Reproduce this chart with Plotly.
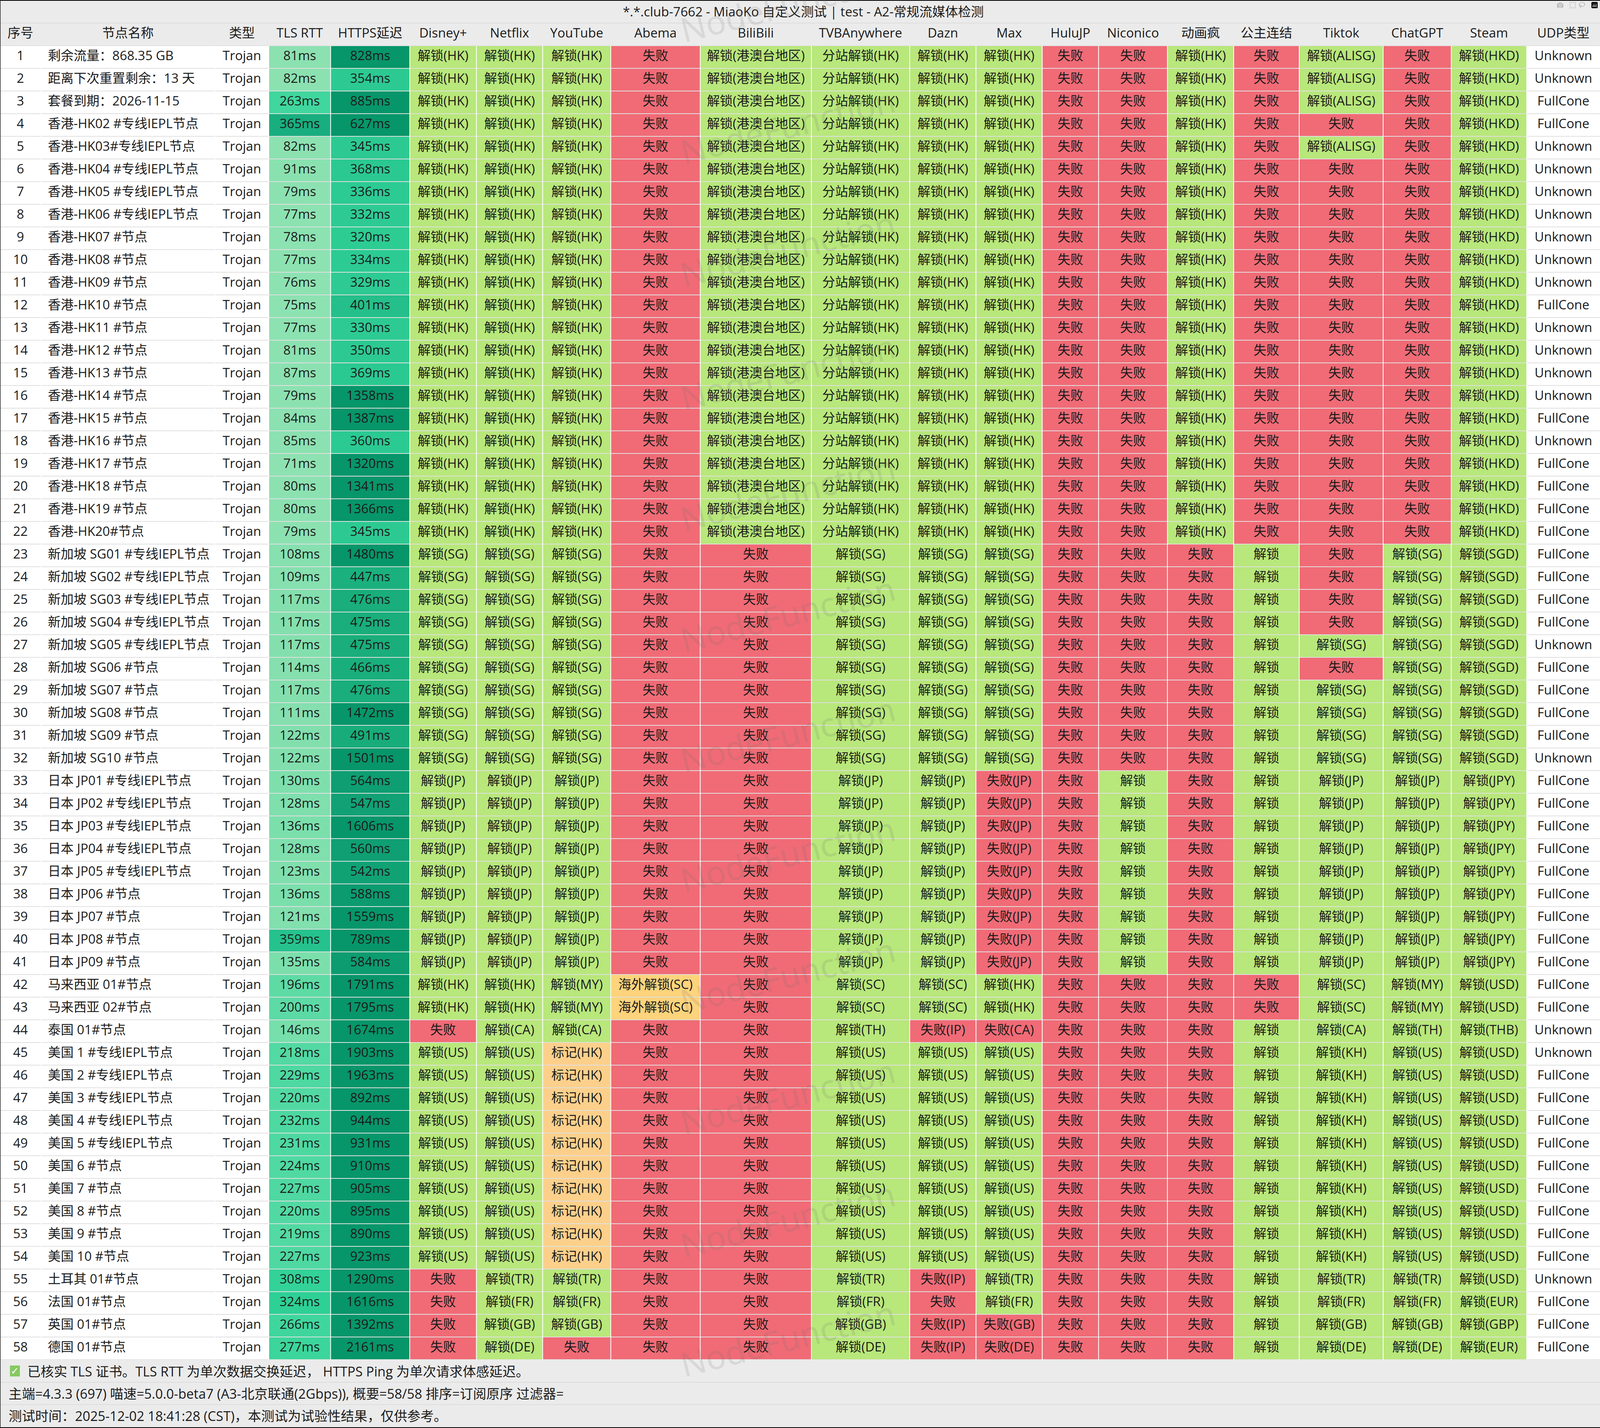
import numpy as np
import plotly.graph_objects as go

WIDTH = 4346
HEIGHT = 3656
FONT = "Open Sans, Noto Sans CJK SC, sans-serif"
TEXT_SIZE = 33
FOOTER_SIZE = 34

title_text = "*.*.club-7662 - MiaoKo 自定义测试 | test - A2-常规流媒体检测"
headers = ["序号", "节点名称", "类型", "TLS RTT", "HTTPS延迟", "Disney+", "Netflix", "YouTube", "Abema",
           "BiliBili", "TVBAnywhere", "Dazn", "Max", "HuluJP", "Niconico", "动画疯", "公主连结",
           "Tiktok", "ChatGPT", "Steam", "UDP类型"]

# x position of every column edge, in pixels
col_edges = [0, 111, 584, 730, 898, 1113, 1294, 1474, 1659, 1902, 2204, 2471, 2651, 2831, 2984,
             3171, 3351, 3529, 3757, 3942, 4147, 4346]

hk_special = ["香港-HK02 #专线IEPL节点", "香港-HK03#专线IEPL节点", "香港-HK04 #专线IEPL节点",
              "香港-HK05 #专线IEPL节点", "香港-HK06 #专线IEPL节点"]
hk_plain = ["香港-HK07 #节点", "香港-HK08 #节点", "香港-HK09 #节点", "香港-HK10 #节点", "香港-HK11 #节点",
            "香港-HK12 #节点", "香港-HK13 #节点", "香港-HK14 #节点", "香港-HK15 #节点", "香港-HK16 #节点",
            "香港-HK17 #节点", "香港-HK18 #节点", "香港-HK19 #节点", "香港-HK20#节点"]
sg_nodes = ["新加坡 SG01 #专线IEPL节点", "新加坡 SG02 #专线IEPL节点", "新加坡 SG03 #专线IEPL节点",
            "新加坡 SG04 #专线IEPL节点", "新加坡 SG05 #专线IEPL节点", "新加坡 SG06 #节点", "新加坡 SG07 #节点",
            "新加坡 SG08 #节点", "新加坡 SG09 #节点", "新加坡 SG10 #节点"]
jp_nodes = ["日本 JP01 #专线IEPL节点", "日本 JP02 #专线IEPL节点", "日本 JP03 #专线IEPL节点", "日本 JP04 #专线IEPL节点",
            "日本 JP05 #专线IEPL节点", "日本 JP06 #节点", "日本 JP07 #节点", "日本 JP08 #节点", "日本 JP09 #节点"]
us_nodes = ["美国 1 #专线IEPL节点", "美国 2 #专线IEPL节点", "美国 3 #专线IEPL节点", "美国 4 #专线IEPL节点",
            "美国 5 #专线IEPL节点", "美国 6 #节点", "美国 7 #节点", "美国 8 #节点", "美国 9 #节点", "美国 10 #节点"]
node_names = (["剩余流量：868.35 GB", "距离下次重置剩余：13 天", "套餐到期：2026-11-15"] + hk_special + hk_plain
              + sg_nodes + jp_nodes + ["马来西亚 01#节点", "马来西亚 02#节点", "泰国 01#节点"] + us_nodes
              + ["土耳其 01#节点", "法国 01#节点", "英国 01#节点", "德国 01#节点"])

tls_rtt = [81, 82, 263, 365, 82, 91, 79, 77, 78, 77, 76, 75, 77, 81, 87, 79, 84, 85, 71, 80, 80, 79,
           108, 109, 117, 117, 117, 114, 117, 111, 122, 122,
           130, 128, 136, 128, 123, 136, 121, 359, 135,
           196, 200, 146, 218, 229, 220, 232, 231, 224, 227, 220, 219, 227, 308, 324, 266, 277]
https_ping = [828, 354, 885, 627, 345, 368, 336, 332, 320, 334, 329, 401, 330, 350, 369, 1358, 1387, 360,
              1320, 1341, 1366, 345,
              1480, 447, 476, 475, 475, 466, 476, 1472, 491, 1501,
              564, 547, 1606, 560, 542, 588, 1559, 789, 584,
              1791, 1795, 1674, 1903, 1963, 892, 944, 931, 910, 905, 895, 890, 923, 1290, 1616, 1392, 2161]

FAIL = "失败"
disney = ["解锁(HK)"] * 22 + ["解锁(SG)"] * 10 + ["解锁(JP)"] * 9 + ["解锁(HK)"] * 2 + [FAIL] + ["解锁(US)"] * 10 + [FAIL] * 4
netflix = (["解锁(HK)"] * 22 + ["解锁(SG)"] * 10 + ["解锁(JP)"] * 9 + ["解锁(HK)"] * 2 + ["解锁(CA)"] + ["解锁(US)"] * 10
           + ["解锁(TR)", "解锁(FR)", "解锁(GB)", "解锁(DE)"])
youtube = (["解锁(HK)"] * 22 + ["解锁(SG)"] * 10 + ["解锁(JP)"] * 9 + ["解锁(MY)"] * 2 + ["解锁(CA)"] + ["标记(HK)"] * 10
           + ["解锁(TR)", "解锁(FR)", "解锁(GB)", FAIL])
abema = [FAIL] * 41 + ["海外解锁(SC)"] * 2 + [FAIL] * 15
bilibili = ["解锁(港澳台地区)"] * 22 + [FAIL] * 36
tvb = (["分站解锁(HK)"] * 22 + ["解锁(SG)"] * 10 + ["解锁(JP)"] * 9 + ["解锁(SC)"] * 2 + ["解锁(TH)"] + ["解锁(US)"] * 10
       + ["解锁(TR)", "解锁(FR)", "解锁(GB)", "解锁(DE)"])
dazn = (["解锁(HK)"] * 22 + ["解锁(SG)"] * 10 + ["解锁(JP)"] * 9 + ["解锁(SC)"] * 2 + ["失败(IP)"] + ["解锁(US)"] * 10
        + ["失败(IP)", FAIL, "失败(IP)", "失败(IP)"])
hbo_max = (["解锁(HK)"] * 22 + ["解锁(SG)"] * 10 + ["失败(JP)"] * 9 + ["解锁(HK)"] * 2 + ["失败(CA)"] + ["解锁(US)"] * 10
           + ["解锁(TR)", "解锁(FR)", "失败(GB)", "失败(DE)"])
hulu_jp = [FAIL] * 58
niconico = [FAIL] * 32 + ["解锁"] * 9 + [FAIL] * 17
bahamut = ["解锁(HK)"] * 22 + [FAIL] * 36
pcr = [FAIL] * 22 + ["解锁"] * 19 + [FAIL] * 2 + ["解锁"] * 15
tiktok = (["解锁(ALISG)"] * 3 + [FAIL, "解锁(ALISG)"] + [FAIL] * 21 + ["解锁(SG)", FAIL] + ["解锁(SG)"] * 4
          + ["解锁(JP)"] * 9 + ["解锁(SC)"] * 2 + ["解锁(CA)"] + ["解锁(KH)"] * 10
          + ["解锁(TR)", "解锁(FR)", "解锁(GB)", "解锁(DE)"])
chatgpt = ([FAIL] * 22 + ["解锁(SG)"] * 10 + ["解锁(JP)"] * 9 + ["解锁(MY)"] * 2 + ["解锁(TH)"] + ["解锁(US)"] * 10
           + ["解锁(TR)", "解锁(FR)", "解锁(GB)", "解锁(DE)"])
steam = (["解锁(HKD)"] * 22 + ["解锁(SGD)"] * 10 + ["解锁(JPY)"] * 9 + ["解锁(USD)"] * 2 + ["解锁(THB)"] + ["解锁(USD)"] * 11
         + ["解锁(EUR)", "解锁(GBP)", "解锁(EUR)"])
udp_u, udp_f = "Unknown", "FullCone"
udp_type = ([udp_u, udp_u, udp_f, udp_f] + [udp_u] * 7 + [udp_f] + [udp_u] * 4 + [udp_f, udp_u] + [udp_f] * 8 + [udp_u]
            + [udp_f] * 4 + [udp_u] + [udp_f] * 11 + [udp_u, udp_u] + [udp_f] * 9 + [udp_u] + [udp_f] * 3)

footer_lines = ["已核实 TLS 证书。TLS RTT 为单次数据交换延迟， HTTPS Ping 为单次请求体感延迟。",
                "主端=4.3.3 (697) 喵速=5.0.0-beta7 (A3-北京联通(2Gbps)), 概要=58/58 排序=订阅原序 过滤器=",
                "测试时间：2025-12-02 18:41:28 (CST)，本测试为试验性结果，仅供参考。"]
watermark_y = [9, 321, 636, 951, 1261, 1571, 1879, 2186, 2496, 2806, 3121, 3426]

# colours
GREEN, RED, ORANGE, YELLOW = "#b8e77b", "#f06b76", "#fcd08b", "#fdd37c"
WHITE, HEADER_BG = "#ffffff", "#ebebeb"
RTT_STOPS = [(71, "#8ee2b2"), (117, "#84dfae"), (146, "#76dfab"), (218, "#53d9a3"), (266, "#3fd69d"),
             (324, "#2ed096"), (359, "#25c28d"), (365, "#19ae7e")]
PING_STOPS = [(320, "#2dcc93"), (369, "#2bc992"), (401, "#24bf8a"), (447, "#1ab17e"), (491, "#18ac7a"),
              (560, "#0f9f72"), (627, "#069669")]


def hex_rgb(c):
    return [int(c[i:i + 2], 16) for i in (1, 3, 5)]


def latency_colour(v, stops):
    xs = [s[0] for s in stops]
    rgb = [np.interp(v, xs, [hex_rgb(s[1])[k] for s in stops]) for k in range(3)]
    return "#%02x%02x%02x" % tuple(int(round(c)) for c in rgb)


def status_colour(s):
    if s.startswith("失败"):
        return RED
    if s.startswith("标记"):
        return ORANGE
    if s.startswith("海外"):
        return YELLOW
    return GREEN


n_rows = len(node_names)
columns = [[str(i + 1) for i in range(n_rows)], node_names, ["Trojan"] * n_rows,
           [f"{v}ms" for v in tls_rtt], [f"{v}ms" for v in https_ping],
           disney, netflix, youtube, abema, bilibili, tvb, dazn, hbo_max, hulu_jp, niconico, bahamut, pcr,
           tiktok, chatgpt, steam, udp_type]

col_colours = [[WHITE] * n_rows, [WHITE] * n_rows, [WHITE] * n_rows,
               [latency_colour(v, RTT_STOPS) for v in tls_rtt],
               [latency_colour(v, PING_STOPS) for v in https_ping]]
col_colours += [[status_colour(s) for s in col] for col in columns[5:20]]
col_colours.append([WHITE] * n_rows)

# colour grid -> palette index, first row is the header band
palette = sorted({c for col in col_colours for c in col} | {HEADER_BG})
rows = [[HEADER_BG] * len(columns)] + [[col[r] for col in col_colours] for r in range(n_rows)]
z = [[palette.index(c) for c in row] for row in rows]
colorscale = [[i / (len(palette) - 1), c] for i, c in enumerate(palette)]

fig = go.Figure()
fig.add_trace(go.Heatmap(
    x=col_edges, y=list(range(n_rows + 2)), z=z,
    colorscale=colorscale, zmin=0, zmax=len(palette) - 1, showscale=False,
    xgap=0, ygap=2, hoverinfo="skip",
))

# all centred cell text, header included
xs, ys, texts = [], [], []
for c, col in enumerate(columns):
    mid = (col_edges[c] + col_edges[c + 1]) / 2
    for r, label in enumerate([headers[c]] + col):
        if c == 1 and r > 0:
            continue
        xs.append(mid)
        ys.append(r + 0.5)
        texts.append(label)
fig.add_trace(go.Scatter(
    x=xs, y=ys, text=texts, mode="text", textposition="middle center",
    textfont=dict(family=FONT, size=TEXT_SIZE, color="#1a1a1a"),
    hoverinfo="skip", cliponaxis=False, showlegend=False,
))
# node names are left aligned
fig.add_trace(go.Scatter(
    x=[col_edges[1] + 19] * n_rows, y=[r + 1.5 for r in range(n_rows)], text=node_names,
    mode="text", textposition="middle right",
    textfont=dict(family=FONT, size=TEXT_SIZE, color="#1a1a1a"),
    hoverinfo="skip", cliponaxis=False, showlegend=False,
))


def py(p):
    return 1 - p / HEIGHT


annotations = []
for txt, left, top in zip(footer_lines, [72, 21, 21], [3511, 3568, 3625]):
    annotations.append(dict(text=txt, xref="paper", yref="paper", x=left / WIDTH, y=py(top),
                            xanchor="left", yanchor="middle", showarrow=False,
                            font=dict(family=FONT, size=FOOTER_SIZE, color="#1a1a1a")))
# tick inside the green box of the first footer line
annotations.append(dict(text="✓", xref="paper", yref="paper", x=40 / WIDTH, y=py(3510), showarrow=False,
                        xanchor="center", yanchor="middle",
                        font=dict(family="DejaVu Sans", size=26, color="#ffffff")))
for wy in watermark_y:
    annotations.append(dict(text="NodeFunction", xref="paper", yref="paper", x=2140 / WIDTH, y=py(wy),
                            xanchor="center", yanchor="middle", showarrow=False, textangle=-14,
                            font=dict(family="Noto Sans", size=85, color="rgba(110,110,110,0.15)")))

shapes = [
    dict(type="rect", xref="paper", yref="paper", x0=27 / WIDTH, x1=54 / WIDTH, y0=py(3524), y1=py(3496),
         fillcolor="#86c961", line=dict(width=0)),
]
# white column separators, table body only
for edge in col_edges[1:-1]:
    shapes.append(dict(type="line", xref="x", yref="y", x0=edge, x1=edge, y0=1, y1=n_rows + 1,
                       line=dict(color="#ffffff", width=2)))
for p in [59, 3539, 3596]:
    shapes.append(dict(type="line", xref="paper", yref="paper", x0=0, x1=1, y0=py(p), y1=py(p),
                       line=dict(color="#dddddd", width=2)))
# thin black window frame
shapes.append(dict(type="rect", xref="paper", yref="paper", x0=0, x1=1, y0=py(2), y1=py(0),
                   fillcolor="#000000", line=dict(width=0)))
shapes.append(dict(type="rect", xref="paper", yref="paper", x0=0, x1=1, y0=py(HEIGHT), y1=py(3654),
                   fillcolor="#000000", line=dict(width=0)))
shapes.append(dict(type="rect", xref="paper", yref="paper", x0=0, x1=1.5 / WIDTH, y0=0, y1=1,
                   fillcolor="#222222", line=dict(width=0)))

fig.update_layout(
    height=HEIGHT, autosize=True,
    margin=dict(l=0, r=0, t=0, b=0, pad=0),
    paper_bgcolor=HEADER_BG, plot_bgcolor="#e0e0e0",
    showlegend=False,
    title=dict(text=title_text, x=2182 / WIDTH, xanchor="center", y=py(30), yanchor="middle",
               yref="container", font=dict(family=FONT, size=TEXT_SIZE, color="#1a1a1a")),
    xaxis=dict(range=[0, WIDTH], visible=False, domain=[0, 1], fixedrange=True),
    yaxis=dict(range=[n_rows + 1, 0], visible=False, domain=[py(3481), py(59)], fixedrange=True),
    annotations=annotations,
    shapes=shapes,
)

# fit the page: no body margin, figure as wide as the window really is
fit_page = ("document.body.style.margin='0';"
            "document.documentElement.style.overflow='hidden';"
            "var gd=document.getElementById('{plot_id}');"
            "Plotly.relayout(gd,{width:window.innerWidth,height:window.innerHeight});")
fig.write_html("out.html", post_script=fit_page)
